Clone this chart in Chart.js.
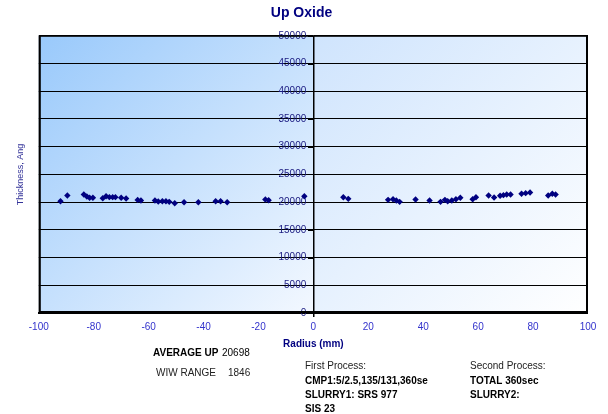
<!DOCTYPE html>
<html>
<head>
<meta charset="utf-8">
<script src="https://cdn.jsdelivr.net/npm/chart.js@4.4.1/dist/chart.umd.min.js"></script>
<style>
html,body{margin:0;padding:0;background:#fff;}
#wrap{position:relative;width:608px;height:414px;overflow:hidden;}
canvas{display:block;}
</style>
</head>
<body>
<div id="wrap"><canvas id="c" width="608" height="414"></canvas></div>
<script>
const chartTitle = "Up Oxide";
const xAxisTitle = "Radius (mm)";
const yAxisTitle = "Thickness, Ang";
const radius = [-92.1,-89.6,-83.6,-82.5,-81.5,-80.3,-76.7,-75.5,-74.3,-73.1,-72.1,-70.0,-68.2,-64.0,-62.8,-57.7,-56.5,-55.0,-53.7,-52.5,-50.5,-47.1,-41.9,-35.6,-33.8,-31.4,-17.5,-16.3,-3.3,
  10.9,12.7,27.2,29.0,30.2,31.4,37.2,42.3,46.3,47.9,48.9,50.4,51.9,53.5,58.0,59.2,63.8,65.8,68.0,69.2,70.4,71.8,75.8,77.3,78.9,85.5,87.0,88.2];
const thickness = [20160,21200,21380,21010,20780,20780,20700,21070,20900,20900,20900,20800,20650,20400,20290,20290,20100,20160,20160,20050,19800,19980,19980,20160,20160,19980,20470,20350,21070,
  20890,20590,20410,20530,20290,20050,20470,20290,20050,20410,20160,20290,20530,20780,20530,20890,21200,20830,21140,21260,21380,21380,21500,21620,21740,21200,21500,21380];
const statLabels = ["AVERAGE UP","WIW RANGE"];
const statValues = ["20698","1846"];
const firstProcess = ["First Process:","CMP1:5/2.5,135/131,360se","SLURRY1: SRS 977","SIS 23"];
const secondProcess = ["Second Process:","TOTAL 360sec","SLURRY2:"];

const points = radius.map((r,i)=>({x:r,y:thickness[i]}));
const FONT = "'Liberation Sans', Arial, sans-serif";

const bgPlugin = {
  id:'bg',
  beforeDraw(chart){
    const {ctx, chartArea:a, scales} = chart;
    const xm = scales.x.getPixelForValue(0);
    ctx.save();
    let g = ctx.createLinearGradient(a.left, a.top, xm, a.bottom);
    g.addColorStop(0,'#99c9fb');
    g.addColorStop(1,'#f3f8ff');
    ctx.fillStyle = g;
    ctx.fillRect(a.left,a.top,xm-a.left,a.bottom-a.top);
    g = ctx.createLinearGradient(xm, a.top, a.right, a.bottom);
    g.addColorStop(0,'#cfe4fd');
    g.addColorStop(1,'#ffffff');
    ctx.fillStyle = g;
    ctx.fillRect(xm,a.top,a.right-xm,a.bottom-a.top);
    ctx.restore();
  },
  afterDraw(chart){
    const {ctx, chartArea:a, scales} = chart;
    ctx.save();
    ctx.strokeStyle='#000';
    ctx.lineWidth=1;
    ctx.strokeRect(a.left+0.5,a.top+0.5,a.right-a.left-1,a.bottom-a.top-1);
    ctx.lineWidth=2;
    ctx.beginPath();
    ctx.moveTo(a.left+1,a.top);ctx.lineTo(a.left+1,a.bottom);
    ctx.moveTo(a.left,a.bottom-1);ctx.lineTo(a.right,a.bottom-1);
    ctx.moveTo(a.right-1,a.top);ctx.lineTo(a.right-1,a.bottom);
    ctx.stroke();
    // y tick marks at the x=0 axis
    const xm = Math.round(scales.x.getPixelForValue(0));
    ctx.lineWidth=1;
    ctx.beginPath();
    scales.y.ticks.forEach(t=>{
      const py = Math.round(scales.y.getPixelForValue(t.value))+0.5;
      ctx.moveTo(xm-5,py);ctx.lineTo(xm,py);
    });
    ctx.stroke();
    // text block below chart
    ctx.fillStyle='#000';
    ctx.textBaseline='middle';
    ctx.textAlign='left';
    ctx.font = "bold 10px "+FONT;
    ctx.fillText(statLabels[0],153,353);
    ctx.font = "10px "+FONT;
    ctx.fillText(statValues[0],222,353);
    ctx.fillStyle='#222';
    ctx.fillText(statLabels[1],156,373);
    ctx.fillText(statValues[1],228,373);
    const ys=[366,381,395,409];
    firstProcess.forEach((t,i)=>{
      ctx.font=(i===0?"":"bold ")+"10px "+FONT;
      ctx.fillStyle = i===0?'#222':'#000';
      ctx.fillText(t,305,ys[i]);
    });
    secondProcess.forEach((t,i)=>{
      ctx.font=(i===0?"":"bold ")+"10px "+FONT;
      ctx.fillStyle = i===0?'#222':'#000';
      ctx.fillText(t,470,ys[i]);
    });
    ctx.restore();
  }
};

new Chart(document.getElementById('c'),{
  type:'scatter',
  data:{datasets:[{
    data:points,
    pointStyle:'rectRot',
    radius:3.2,
    hoverRadius:3.2,
    backgroundColor:'#000080',
    borderColor:'#000080',
    borderWidth:0
  }]},
  options:{
    responsive:false,
    animation:false,
    events:[],
    layout:{padding:{left:15,right:20,top:0,bottom:64}},
    plugins:{
      legend:{display:false},
      tooltip:{enabled:false},
      title:{display:true,text:chartTitle,color:'#000080',font:{family:FONT,size:14,weight:'bold'},padding:{top:5,bottom:14}}
    },
    scales:{
      x:{
        type:'linear',min:-100,max:100,
        ticks:{stepSize:20,color:'#3333cc',font:{family:FONT,size:10},padding:4,callback:(v)=>String(v)},
        grid:{color:(c)=>c.tick && c.tick.value===0?'#000':'rgba(0,0,0,0)',lineWidth:(c)=>c.tick && c.tick.value===0?1.5:0,drawTicks:true,tickLength:4,tickColor:'#000'},
        border:{display:true,color:'#000',width:2},
        title:{display:true,text:xAxisTitle,color:'#000080',font:{family:FONT,size:10,weight:'bold'},padding:{top:1,bottom:0}}
      },
      y:{
        type:'linear',min:0,max:50000,
        position:{x:-2.6},
        ticks:{stepSize:5000,color:'#1a1a80',font:{family:FONT,size:10},padding:2,callback:(v)=>String(v)},
        grid:{color:'#000',lineWidth:1,drawTicks:false},
        border:{display:false}
      },
      y2:{
        type:'linear',min:0,max:50000,position:'left',
        ticks:{display:false},
        grid:{display:false,drawTicks:false},
        border:{display:false},
        title:{display:true,text:yAxisTitle,color:'#333399',font:{family:FONT,size:9},padding:{top:0,bottom:13}}
      }
    }
  },
  plugins:[bgPlugin]
});
</script>
</body>
</html>
